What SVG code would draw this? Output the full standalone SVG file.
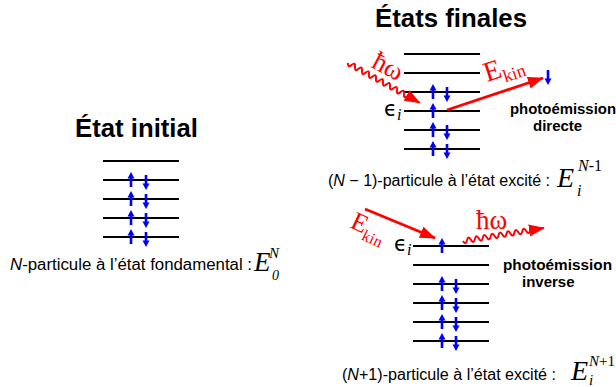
<svg xmlns="http://www.w3.org/2000/svg" xmlns:xlink="http://www.w3.org/1999/xlink" width="616" height="387" viewBox="0 0 616 387">
<style>
.lv{stroke:#000;stroke-width:2;fill:none}
.title{font-family:"Liberation Sans",Arial,sans-serif;font-weight:bold;font-size:25px;fill:#000}
.cap{font-family:"Liberation Sans",Arial,sans-serif;font-size:16px;fill:#000}
.bold{font-family:"Liberation Sans",Arial,sans-serif;font-weight:bold;font-size:15px;fill:#000}
.math{font-family:"Liberation Serif","Times New Roman",serif;font-style:italic;fill:#000}
.eps{font-family:"DejaVu Sans","Liberation Sans",sans-serif;font-size:21px;fill:#000}
.red{font-family:"Liberation Serif","Times New Roman",serif;fill:#f00}
.ra{stroke:#f00;stroke-width:2.8;fill:none}
.wv{stroke:#f00;stroke-width:2;fill:none}
</style>
<defs>
<g id="up"><rect x="-1.3" y="-2" width="2.6" height="9" fill="#00f"/><path d="M-3.5,-1.5 L3.5,-1.5 L0,-8 Z" fill="#00f"/></g>
<g id="dn"><rect x="-1.3" y="-5" width="2.6" height="9" fill="#00f"/><path d="M-3.5,3.5 L3.5,3.5 L0,10 Z" fill="#00f"/></g>
<marker id="ah" viewBox="0 0 16 12" refX="15" refY="6" markerWidth="16" markerHeight="12" markerUnits="userSpaceOnUse" orient="auto"><path d="M0,0 L16,6 L0,12 Z" fill="#f00"/></marker>
</defs>

<g id="initial">
<text class="title" x="75" y="137" textLength="123" lengthAdjust="spacingAndGlyphs">État initial</text>
<path class="lv" d="M103,161H179M103,180H179M103,199H179M103,218H179M103,237H179"/>
<use xlink:href="#up" x="131" y="180"/><use xlink:href="#dn" x="146" y="180"/>
<use xlink:href="#up" x="131" y="199"/><use xlink:href="#dn" x="146" y="199"/>
<use xlink:href="#up" x="131" y="218"/><use xlink:href="#dn" x="146" y="218"/>
<use xlink:href="#up" x="131" y="237"/><use xlink:href="#dn" x="146" y="237"/>
<text class="cap" x="10" y="270" textLength="242" lengthAdjust="spacingAndGlyphs"><tspan font-style="italic">N</tspan>-particule à l’état fondamental :</text>
<text class="math" x="254" y="271" font-size="27">E</text>
<text class="math" x="269" y="258" font-size="15">N</text>
<text class="math" x="272" y="280" font-size="14" font-style="normal">0</text>
</g>

<g id="final-direct">
<text class="title" x="375" y="27" textLength="152" lengthAdjust="spacingAndGlyphs">États finales</text>
<path class="lv" d="M404,54H480M404,73H480M404,92H480M404,111H480M404,130H480M404,149H480"/>
<use xlink:href="#up" x="433" y="92"/><use xlink:href="#dn" x="447" y="92"/>
<use xlink:href="#up" x="433" y="111"/>
<use xlink:href="#up" x="433" y="130"/><use xlink:href="#dn" x="447" y="130"/>
<use xlink:href="#up" x="433" y="149"/><use xlink:href="#dn" x="447" y="149"/>
<text class="eps" x="384" y="116">ϵ<tspan class="math" font-size="16" dx="0" dy="4">i</tspan></text>
<use xlink:href="#dn" x="548" y="75"/>
<text class="bold" x="510" y="114" textLength="106" lengthAdjust="spacingAndGlyphs">photoémission</text>
<text class="bold" x="533" y="131">directe</text>
<text class="cap" x="328" y="186" textLength="222" lengthAdjust="spacingAndGlyphs">(<tspan font-style="italic">N</tspan> − 1)-particule à l’état excité :</text>
<text class="math" x="557" y="187" font-size="28">E</text>
<text class="math" x="578" y="171" font-size="16">N<tspan font-style="normal">-1</tspan></text>
<text class="math" x="577" y="196" font-size="16">i</text>
</g>

<g id="final-inverse">
<path class="lv" d="M413,246H489M413,265H489M413,284H489M413,303H489M413,322H489M413,341H489"/>
<use xlink:href="#up" x="442" y="246"/>
<use xlink:href="#up" x="442" y="284"/><use xlink:href="#dn" x="456" y="284"/>
<use xlink:href="#up" x="442" y="303"/><use xlink:href="#dn" x="456" y="303"/>
<use xlink:href="#up" x="442" y="322"/><use xlink:href="#dn" x="456" y="322"/>
<use xlink:href="#up" x="442" y="341"/><use xlink:href="#dn" x="456" y="341"/>
<text class="eps" x="394" y="251">ϵ<tspan class="math" font-size="16" dx="0" dy="4">i</tspan></text>
<text class="bold" x="503" y="270" textLength="109" lengthAdjust="spacingAndGlyphs">photoémission</text>
<text class="bold" x="522" y="287">inverse</text>
<text class="cap" x="342" y="380" textLength="214" lengthAdjust="spacingAndGlyphs">(<tspan font-style="italic">N</tspan>+1)-particule à l’état excité :</text>
<text class="math" x="571" y="380" font-size="28">E</text>
<text class="math" x="589" y="366" font-size="15">N<tspan font-style="normal">+1</tspan></text>
<text class="math" x="589" y="385" font-size="15">i</text>
</g>

<g id="connectors">
<path class="wv" marker-end="url(#ah)" d="M348,63 q-0.68,5.34 3.5,1.94 t3.5,1.94 t3.5,1.94 t3.5,1.94 t3.5,1.94 t3.5,1.94 t3.5,1.94 t3.5,1.94 t3.5,1.94 t3.5,1.94 t3.5,1.94 t3.5,1.94 t3.5,1.94 t3.5,1.94 t3.5,1.94 t3.5,1.94 t3.5,1.94 l12.2,6.8"/>
<text class="red" font-size="27" transform="translate(384,74) rotate(28)" text-anchor="middle">ħω</text>
<path class="ra" marker-end="url(#ah)" d="M447,110 L543,78"/>
<text class="red" transform="translate(487,82) rotate(-18)"><tspan font-size="28">E</tspan><tspan font-size="18" dy="6">kin</tspan></text>
<path class="ra" marker-end="url(#ah)" d="M365,209 L435,238"/>
<text class="red" transform="translate(349,227) rotate(25)"><tspan font-size="26">E</tspan><tspan font-size="16" dy="6">kin</tspan></text>
<path class="wv" marker-end="url(#ah)" d="M463,241 q2.77,4.63 3.95,-0.63 t3.95,-0.63 t3.95,-0.63 t3.95,-0.63 t3.95,-0.63 t3.95,-0.63 t3.95,-0.63 t3.95,-0.63 t3.95,-0.63 t3.95,-0.63 t3.95,-0.63 t3.95,-0.63 t3.95,-0.63 t3.95,-0.63 t3.95,-0.63 t3.95,-0.63 t3.95,-0.63 l13.8,-2.2"/>
<text class="red" font-size="27" x="476" y="229">ħω</text>
</g>
</svg>
